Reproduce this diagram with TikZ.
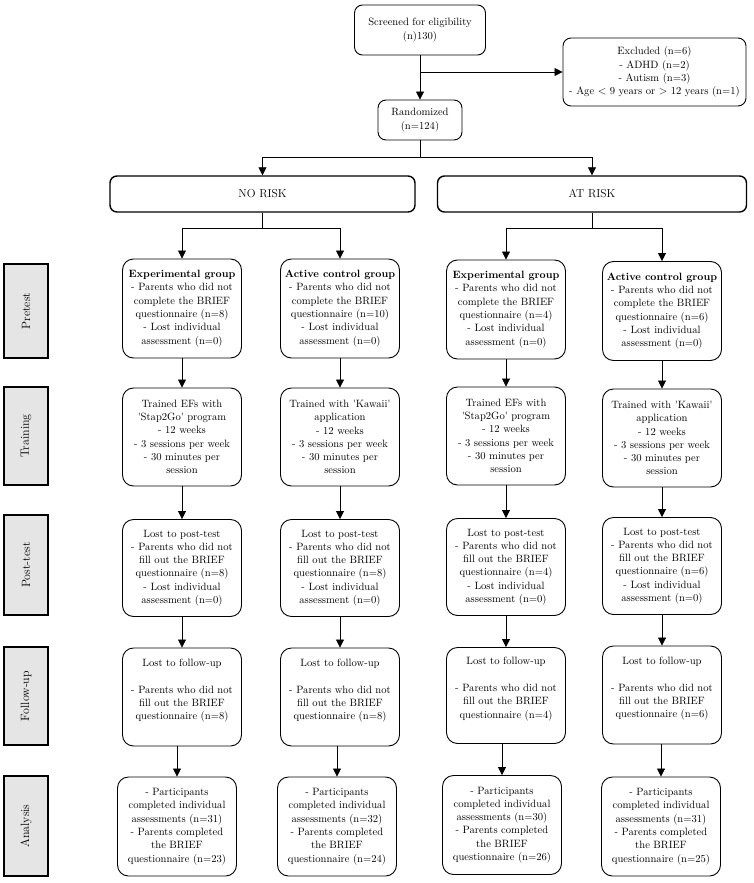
\documentclass[tikz,border=0pt]{standalone}
\usetikzlibrary{arrows.meta}
\begin{document}
\begin{tikzpicture}[x=1pt,y=-1pt,
  txt/.style={font=\fontsize{10.6}{13.3}\selectfont},
  box/.style={txt, draw, rounded corners=11pt, line width=0.9pt, align=center,
    minimum width=119pt, inner sep=2pt},
  topbox/.style={txt, draw, rounded corners=8pt, line width=0.9pt, align=center, inner sep=2pt},
  riskbox/.style={draw, rounded corners=7pt, line width=1.4pt, minimum height=36pt,
    font=\fontsize{11.5}{13}\selectfont},
  phase/.style={draw, line width=1.6pt, fill=black!10, rotate=90, minimum height=44pt,
    inner sep=0pt, font=\fontsize{12}{13}\selectfont},
  arr/.style={-{Triangle[length=8pt,width=8pt]}, line width=0.8pt},
  ln/.style={line width=0.8pt}]
\useasboundingbox (0,0) rectangle (753,883);
\def\q{\textquotesingle}

% top
\node[topbox, minimum width=131pt, minimum height=50pt] (scr) at (420,30) {Screened for eligibility\\(n)130)};
\node[topbox, minimum width=183pt, minimum height=68pt] (exc) at (654.5,72) {Excluded (n=6)\\- ADHD (n=2)\\- Autism (n=3)\\- Age $<$ 9 years or $>$ 12 years (n=1)};
\node[topbox, minimum width=84pt, minimum height=40pt] (rand) at (420,120) {Randomized\\(n=124)};
\draw[arr] (scr.south) -- (rand.north);
\draw[arr] (scr.south |- exc.west) -- (exc.west);

% risk groups
\node[riskbox, minimum width=305pt] (nr) at (262.5,194) {NO RISK};
\node[riskbox, minimum width=309pt] (ar) at (592,194) {AT RISK};
\draw[ln] (rand.south) -- ++(0,17) coordinate (rb);
\draw[arr] (rb) -| (nr.north);
\draw[arr] (rb) -| (ar.north);

% phase labels
\node[phase, minimum width=94pt] (ph1) at (26,311) {Pretest};
\node[phase, minimum width=98pt] (ph2) at (26,436) {Training};
\node[phase, minimum width=100pt] (ph3) at (26,565) {Post-test};
\node[phase, minimum width=98pt] (ph4) at (26,696) {Follow-up};
\node[phase, minimum width=100pt] (ph5) at (26,826) {Analysis};

% pretest
\node[box, minimum height=99pt] (p1) at (182,308.5) {\textbf{Experimental group}\\- Parents who did not\\complete the BRIEF\\questionnaire (n=8)\\- Lost individual\\assessment (n=0)};
\node[box, minimum height=99pt] (p2) at (340,308.5) {\textbf{Active control group}\\- Parents who did not\\complete the BRIEF\\questionnaire (n=10)\\- Lost individual\\assessment (n=0)};
\node[box, minimum height=99pt] (p3) at (506,309.5) {\textbf{Experimental group}\\- Parents who did not\\complete the BRIEF\\questionnaire (n=4)\\- Lost individual\\assessment (n=0)};
\node[box, minimum height=99pt] (p4) at (662,311) {\textbf{Active control group}\\- Parents who did not\\complete the BRIEF\\questionnaire (n=6)\\- Lost individual\\assessment (n=0)};

\draw[ln] (nr.south) -- ++(0,16) coordinate (nrb);
\draw[arr] (nrb) -| (p1.north);
\draw[arr] (nrb) -| (p2.north);
\draw[ln] (ar.south) -- ++(0,16) coordinate (arb);
\draw[arr] (arb) -| (p3.north);
\draw[arr] (arb) -| (p4.north);

% training
\node[box, minimum height=98pt] (t1) at (182,437) {Trained EFs with\\\q Stap2Go\q\ program\\- 12 weeks\\- 3 sessions per week\\- 30 minutes per\\session};
\node[box, minimum height=98pt] (t2) at (340,437) {Trained with \q Kawaii\q\\application\\- 12 weeks\\- 3 sessions per week\\- 30 minutes per\\session};
\node[box, minimum height=98pt] (t3) at (506,436) {Trained EFs with\\\q Stap2Go\q\ program\\- 12 weeks\\- 3 sessions per week\\- 30 minutes per\\session};
\node[box, minimum height=98pt] (t4) at (662,438) {Trained with \q Kawaii\q\\application\\- 12 weeks\\- 3 sessions per week\\- 30 minutes per\\session};

% post-test
\node[box, minimum height=97pt] (q1) at (182,568) {Lost to post-test\\- Parents who did not\\fill out the BRIEF\\questionnaire (n=8)\\- Lost individual\\assessment (n=0)};
\node[box, minimum height=97pt] (q2) at (340,568) {Lost to post-test\\- Parents who did not\\fill out the BRIEF\\questionnaire (n=8)\\- Lost individual\\assessment (n=0)};
\node[box, minimum height=97pt] (q3) at (506,567) {Lost to post-test\\- Parents who did not\\fill out the BRIEF\\questionnaire (n=4)\\- Lost individual\\assessment (n=0)};
\node[box, minimum height=97pt] (q4) at (662,566) {Lost to post-test\\- Parents who did not\\fill out the BRIEF\\questionnaire (n=6)\\- Lost individual\\assessment (n=0)};

% follow-up
\node[box, minimum height=98pt] (f1) at (182,697) {Lost to follow-up\\[13.3pt]- Parents who did not\\fill out the BRIEF\\questionnaire (n=8)\\[2pt]};
\node[box, minimum height=98pt] (f2) at (340,697) {Lost to follow-up\\[13.3pt]- Parents who did not\\fill out the BRIEF\\questionnaire (n=8)\\[2pt]};
\node[box, minimum height=96pt] (f3) at (506,695.5) {Lost to follow-up\\[13.3pt]- Parents who did not\\fill out the BRIEF\\questionnaire (n=4)\\[2pt]};
\node[box, minimum height=98pt] (f4) at (662,695) {Lost to follow-up\\[13.3pt]- Parents who did not\\fill out the BRIEF\\questionnaire (n=6)\\[2pt]};

% analysis
\node[box, minimum height=99pt] (a1) at (177,826.5) {- Participants\\completed individual\\assessments (n=31)\\- Parents completed\\the BRIEF\\questionnaire (n=23)};
\node[box, minimum height=99pt] (a2) at (337,826.5) {- Participants\\completed individual\\assessments (n=32)\\- Parents completed\\the BRIEF\\questionnaire (n=24)};
\node[box, minimum height=99pt] (a3) at (502,825) {- Participants\\completed individual\\assessments (n=30)\\- Parents completed\\the BRIEF\\questionnaire (n=26)};
\node[box, minimum height=99pt] (a4) at (661,826.5) {- Participants\\completed individual\\assessments (n=31)\\- Parents completed\\the BRIEF\\questionnaire (n=25)};

\foreach \c in {1,2,3,4}{
  \draw[arr] (p\c.south) -- (t\c.north);
  \draw[arr] (t\c.south) -- (q\c.north);
  \draw[arr] (q\c.south) -- (f\c.north);
  \draw[arr] (a\c.north |- f\c.south) -- (a\c.north);
}
\end{tikzpicture}
\end{document}
